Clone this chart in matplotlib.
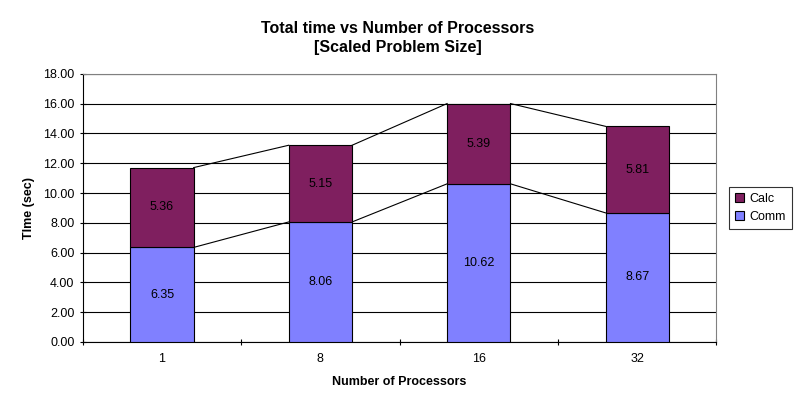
import matplotlib.pyplot as plt
import numpy as np

plt.rcParams['font.family'] = ['Liberation Sans', 'DejaVu Sans']

procs = ['1', '8', '16', '32']
comm = [6.35, 8.06, 10.62, 8.67]
calc = [5.36, 5.15, 5.39, 5.81]

fig = plt.figure(figsize=(7.96, 4.13), dpi=100)
ax = fig.add_axes([0.104, 0.172, 0.796, 0.649])

x = np.arange(len(procs))
w = 0.4
comm_c = '#8080FF'
calc_c = '#7F1F5F'

b1 = ax.bar(x, comm, w, color=comm_c, edgecolor='black', linewidth=0.8, label='Comm', zorder=3)
b2 = ax.bar(x, calc, w, bottom=comm, color=calc_c, edgecolor='black', linewidth=0.8, label='Calc', zorder=3)

# series lines between bars
tops = np.array(comm) + np.array(calc)
for i in range(len(procs) - 1):
    ax.plot([x[i] + w / 2, x[i + 1] - w / 2], [comm[i], comm[i + 1]], color='black', lw=0.8, zorder=2)
    ax.plot([x[i] + w / 2, x[i + 1] - w / 2], [tops[i], tops[i + 1]], color='black', lw=0.8, zorder=2)

for i in range(len(procs)):
    ax.text(x[i], comm[i] / 2, f'{comm[i]:.2f}', ha='center', va='center', fontsize=9, zorder=4)
    ax.text(x[i], comm[i] + calc[i] / 2, f'{calc[i]:.2f}', ha='center', va='center', fontsize=9, zorder=4)

ax.set_xlim(-0.5, len(procs) - 0.5)
ax.set_ylim(0, 18)
ax.set_yticks(np.arange(0, 18.01, 2))
ax.set_yticklabels([f'{v:.2f}' for v in np.arange(0, 18.01, 2)])
ax.set_xticks(x)
ax.set_xticklabels(procs)
ax.set_xticks(np.arange(-0.5, len(procs), 1), minor=True)
ax.yaxis.grid(True, color='black', lw=0.8, zorder=0)
ax.set_axisbelow(True)
ax.tick_params(labelsize=9, length=5, direction='inout', width=0.8)
ax.tick_params(axis='x', which='major', length=0, pad=8)
ax.tick_params(axis='x', which='minor', length=5, width=0.8, direction='inout')
for s in ['top', 'right']:
    ax.spines[s].set_color('#808080')
for s in ['left', 'bottom']:
    ax.spines[s].set_color('black')

ax.set_xlabel('Number of Processors', fontsize=9, fontweight='bold', labelpad=8)
ax.set_ylabel('TIme (sec)', fontsize=9, fontweight='bold', labelpad=6)
fig.text(0.5, 0.908, 'Total time vs Number of Processors\n[Scaled Problem Size]',
         ha='center', va='center', fontsize=11.5, fontweight='bold', linespacing=1.3)

leg = ax.legend(handles=[b2, b1], loc='center left', bbox_to_anchor=(1.01, 0.5),
                fontsize=9, frameon=True, fancybox=False, edgecolor='black',
                handlelength=0.7, handleheight=0.7, handletextpad=0.4, borderpad=0.5)
leg.get_frame().set_linewidth(0.8)

fig.savefig('out.png', dpi=100)
